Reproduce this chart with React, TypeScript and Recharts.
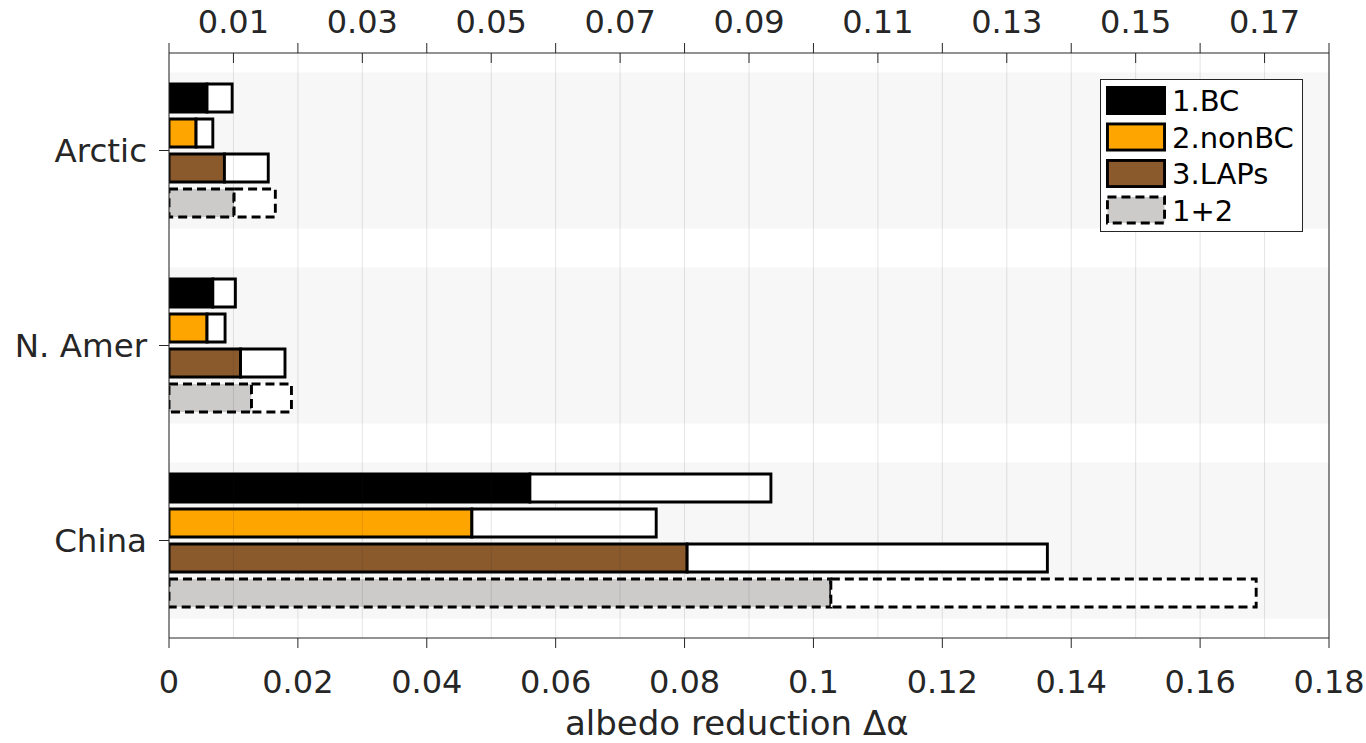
import React from "react"
import {
  ComposedChart,
  Bar,
  XAxis,
  YAxis,
  CartesianGrid,
  ReferenceArea,
  ReferenceLine,
  Legend,
  Label,
} from "recharts"

// albedo reduction per region: filled part = lower estimate, outlined part = upper estimate
const REGIONS = ["Arctic", "N. Amer", "China"]

const BC_LOW = [0.0059, 0.0068, 0.056]
const BC_HIGH = [0.0098, 0.0103, 0.0934]
const NONBC_LOW = [0.0042, 0.0059, 0.047]
const NONBC_HIGH = [0.0068, 0.0087, 0.0756]
const LAPS_LOW = [0.0086, 0.0111, 0.0804]
const LAPS_HIGH = [0.0154, 0.018, 0.1363]
const SUM_LOW = [0.0101, 0.0128, 0.1027]
const SUM_HIGH = [0.0165, 0.019, 0.1687]

const BOTTOM_TICKS = [0, 0.02, 0.04, 0.06, 0.08, 0.1, 0.12, 0.14, 0.16, 0.18]
const TOP_TICKS = [0.01, 0.03, 0.05, 0.07, 0.09, 0.11, 0.13, 0.15, 0.17]

const X_DOMAIN: [number, number] = [0, 0.18]
const BAND_HALF = 0.4

const INK = "#262626"
const FONT = "DejaVu Sans"
const EDGE = 2.9

const SERIES = [
  { key: "bc", name: "1.BC", fill: "#000000", dash: undefined as string | undefined, low: BC_LOW, high: BC_HIGH },
  { key: "nonbc", name: "2.nonBC", fill: "#ffa500", dash: undefined, low: NONBC_LOW, high: NONBC_HIGH },
  { key: "laps", name: "3.LAPs", fill: "#8a5a2c", dash: undefined, low: LAPS_LOW, high: LAPS_HIGH },
  { key: "sum", name: "1+2", fill: "#cdcaca", dash: "9 5", low: SUM_LOW, high: SUM_HIGH },
]

const rows = REGIONS.map((region, i) => {
  const row: Record<string, string | number> = { region, pos: i + 1 }
  SERIES.forEach((s) => {
    row[s.key] = s.low[i]
    row[s.key + "Rest"] = s.high[i] - s.low[i]
  })
  return row
})

const ALL_TOP = [...BOTTOM_TICKS, ...TOP_TICKS].sort((a, b) => a - b)
const isLabelled = (v: number) => TOP_TICKS.some((t) => Math.abs(t - v) < 1e-9)

const fmt = (v: number) => String(Number(v.toFixed(2)))

// top axis: labelled ticks point into the plot, the others point outward
function TopTick(props: any) {
  const { x, y, payload } = props
  const v = payload.value as number
  if (isLabelled(v)) {
    return (
      <g>
        <line x1={x} x2={x} y1={y} y2={y + 10} stroke={INK} />
        <text x={x} y={y - 20} textAnchor="middle" fontSize={32} fill={INK} fontFamily={FONT}>
          {fmt(v)}
        </text>
      </g>
    )
  }
  return <line x1={x} x2={x} y1={y} y2={y - 10} stroke={INK} />
}

function AxisTitle(props: any) {
  const vb = props.viewBox || {}
  return (
    <text
      x={vb.x + 396}
      y={vb.y + vb.height - 8}
      textAnchor="start"
      fontSize={34}
      fill={INK}
      fontFamily={FONT}
    >
      albedo reduction Δα
    </text>
  )
}

function LegendBox(props: any) {
  const shown = new Set((props.payload || []).map((p: any) => p.dataKey))
  const items = SERIES.filter((s) => shown.has(s.key))
  return (
    <svg width={203} height={153} style={{ display: "block" }}>
      <rect x={0.5} y={0.5} width={202} height={152} fill="#fff" stroke={INK} strokeWidth={1} />
      {items.map((s, i) => {
        const top = 7 + i * 36.5
        return (
          <g key={s.key}>
            <rect
              x={7.45}
              y={top + 1.45}
              width={57.1}
              height={26.1}
              fill={s.fill}
              stroke="#000"
              strokeWidth={EDGE}
              strokeDasharray={s.dash}
            />
            <text x={72} y={top + 25} fontSize={29} fill="#000" fontFamily={FONT}>
              {s.name}
            </text>
          </g>
        )
      })}
    </svg>
  )
}

export default function App() {
  return (
    <div style={{ position: "absolute", left: 0, top: 0, fontFamily: FONT, background: "#fff" }}>
      <ComposedChart
        width={1366}
        height={743}
        data={rows}
        layout="vertical"
        margin={{ top: 0, right: 0, bottom: 0, left: 0 }}
        barSize={28}
        barGap={7}
      >
        <CartesianGrid horizontal={false} stroke={INK} strokeOpacity={0.12} />

        {REGIONS.map((r, i) => (
          <ReferenceArea
            key={r}
            yAxisId="band"
            y1={i + 1 - BAND_HALF}
            y2={i + 1 + BAND_HALF}
            fill="#000"
            fillOpacity={0.03}
            stroke="none"
            ifOverflow="visible"
          />
        ))}

        <XAxis
          type="number"
          domain={X_DOMAIN}
          ticks={BOTTOM_TICKS}
          allowDataOverflow
          interval={0}
          height={105}
          tickSize={10}
          tickMargin={22}
          tickFormatter={fmt}
          stroke={INK}
          tick={{ fontSize: 32, fill: INK, fontFamily: FONT }}
        >
          <Label content={AxisTitle} />
        </XAxis>
        <XAxis
          xAxisId="top"
          orientation="top"
          type="number"
          domain={X_DOMAIN}
          ticks={ALL_TOP}
          allowDataOverflow
          interval={0}
          height={53}
          tickSize={0}
          tickMargin={0}
          tickLine={false}
          stroke={INK}
          tick={<TopTick />}
        />

        <YAxis
          type="category"
          dataKey="region"
          width={169}
          tickSize={10}
          tickMargin={12}
          interval={0}
          stroke={INK}
          tick={{ fontSize: 32.5, fill: INK, fontFamily: FONT }}
        />
        <YAxis
          yAxisId="right"
          orientation="right"
          type="category"
          dataKey="region"
          width={37}
          tickSize={10}
          interval={0}
          tick={false}
          stroke={INK}
        />
        <YAxis
          yAxisId="band"
          type="number"
          dataKey="pos"
          domain={[0.5, 3.5]}
          allowDataOverflow
          hide
        />

        {SERIES.map((s) => (
          <React.Fragment key={s.key}>
            <Bar
              dataKey={s.key}
              name={s.name}
              stackId={s.key}
              fill={s.fill}
              stroke="#000"
              strokeWidth={EDGE}
              strokeDasharray={s.dash}
              isAnimationActive={false}
            />
            <Bar
              dataKey={s.key + "Rest"}
              stackId={s.key}
              fill="#fff"
              stroke="#000"
              strokeWidth={EDGE}
              strokeDasharray={s.dash}
              legendType="none"
              isAnimationActive={false}
            />
          </React.Fragment>
        ))}

        {/* odd grid lines belong to the top axis and sit above the bars */}
        {TOP_TICKS.map((v) => (
          <ReferenceLine key={v} x={v} stroke={INK} strokeOpacity={0.12} />
        ))}

        <Legend
          layout="horizontal"
          verticalAlign="middle"
          wrapperStyle={{ left: 1100, top: 79, width: 203, height: 153 }}
          content={LegendBox}
        />
      </ComposedChart>
    </div>
  )
}
